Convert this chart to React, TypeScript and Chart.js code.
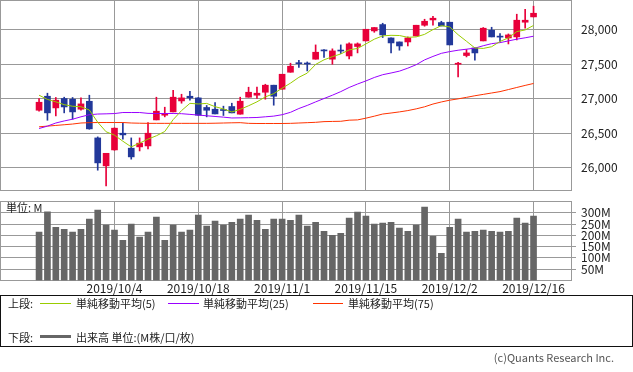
import React, { useEffect, useRef } from 'react';
import { Chart, registerables } from 'chart.js';

Chart.register(...registerables);

// ---- data (DJIA daily) ----
const dates = [
  '2019/9/23', '2019/9/24', '2019/9/25', '2019/9/26', '2019/9/27', '2019/9/30',
  '2019/10/1', '2019/10/2', '2019/10/3', '2019/10/4',
  '2019/10/7', '2019/10/8', '2019/10/9', '2019/10/10', '2019/10/11',
  '2019/10/14', '2019/10/15', '2019/10/16', '2019/10/17', '2019/10/18',
  '2019/10/21', '2019/10/22', '2019/10/23', '2019/10/24', '2019/10/25',
  '2019/10/28', '2019/10/29', '2019/10/30', '2019/10/31', '2019/11/1',
  '2019/11/4', '2019/11/5', '2019/11/6', '2019/11/7', '2019/11/8',
  '2019/11/11', '2019/11/12', '2019/11/13', '2019/11/14', '2019/11/15',
  '2019/11/18', '2019/11/19', '2019/11/20', '2019/11/21', '2019/11/22',
  '2019/11/25', '2019/11/26', '2019/11/27', '2019/11/29',
  '2019/12/2', '2019/12/3', '2019/12/4', '2019/12/5', '2019/12/6',
  '2019/12/9', '2019/12/10', '2019/12/11', '2019/12/12', '2019/12/13',
  '2019/12/16',
];

const open = [
  26830, 27033, 26864, 27000, 26990, 26845, 26960, 26429, 26024, 26255,
  26497, 26280, 26299, 26313, 26690, 26758, 26806, 26965, 27033, 27009,
  26870, 26845, 26835, 26884, 26773, 27019, 27048, 27091, 27193, 27135,
  27381, 27510, 27505, 27570, 27692, 27570, 27692, 27617, 27754, 27835,
  27980, 28072, 27878, 27820, 27820, 27907, 28062, 28139, 28101, 28106,
  27497, 27623, 27733, 27835, 27990, 27900, 27878, 27893, 28106, 28183,
];
const high = [
  27000, 27077, 27015, 27019, 27015, 27010, 27048, 26444, 26206, 26575,
  26647, 26429, 26429, 26650, 27019, 26874, 27120, 27062, 27105, 27015,
  26899, 26942, 26889, 26932, 27019, 27164, 27164, 27207, 27193, 27352,
  27512, 27555, 27530, 27777, 27710, 27720, 27777, 27806, 27806, 28004,
  28029, 28091, 27878, 27820, 27893, 28062, 28149, 28193, 28120, 28106,
  27526, 27710, 27733, 28029, 28033, 27942, 27936, 28222, 28294, 28338,
];
const low = [
  26815, 26685, 26748, 26792, 26700, 26830, 26555, 25961, 25734, 26250,
  26410, 26121, 26240, 26270, 26690, 26734, 26806, 26932, 26975, 26755,
  26734, 26777, 26754, 26792, 26773, 27019, 27000, 26990, 26903, 27135,
  27381, 27450, 27400, 27570, 27595, 27497, 27652, 27574, 27661, 27835,
  27960, 27884, 27661, 27700, 27762, 27907, 28048, 28062, 28052, 27777,
  27313, 27603, 27555, 27835, 27893, 27826, 27791, 27849, 28019, 28183,
];
const close = [
  26946, 26792, 26976, 26878, 26806, 26922, 26560, 26067, 26206, 26570,
  26473, 26154, 26353, 26497, 26816, 26783, 27019, 27009, 27009, 26758,
  26830, 26777, 26826, 26792, 26961, 27091, 27077, 27193, 27033, 27352,
  27468, 27505, 27500, 27671, 27690, 27690, 27688, 27792, 27792, 28004,
  28029, 27922, 27806, 27762, 27878, 28062, 28120, 28164, 28052, 27777,
  27507, 27661, 27661, 28019, 27893, 27890, 27922, 28135, 28135, 28236,
];

const sma5 = [
  27048, 26987, 26952, 26911, 26888, 26881, 26834, 26656, 26518, 26469,
  26381, 26299, 26353, 26412, 26460, 26522, 26694, 26825, 26930, 26921,
  26929, 26882, 26849, 26805, 26843, 26895, 26952, 27023, 27071, 27149,
  27223, 27307, 27368, 27494, 27561, 27607, 27646, 27705, 27726, 27791,
  27860, 27908, 27916, 27913, 27887, 27893, 27930, 27999, 28056, 28037,
  27925, 27830, 27733, 27726, 27751, 27827, 27879, 27970, 27994, 28059,
];
const sma25 = [
  26565, 26600, 26645, 26675, 26700, 26735, 26765, 26775, 26778, 26782,
  26797, 26797, 26797, 26785, 26783, 26783, 26783, 26780, 26770, 26760,
  26750, 26740, 26730, 26718, 26720, 26722, 26725, 26735, 26745, 26765,
  26800, 26855, 26900, 26951, 27000, 27048, 27100, 27160, 27210, 27255,
  27305, 27345, 27370, 27397, 27440, 27490, 27560, 27610, 27655, 27680,
  27700, 27715, 27730, 27765, 27795, 27810, 27835, 27860, 27880, 27903,
];
const sma75 = [
  26590, 26600, 26610, 26620, 26630, 26645, 26650, 26652, 26652, 26652,
  26652, 26645, 26642, 26640, 26640, 26640, 26640, 26640, 26640, 26640,
  26640, 26642, 26645, 26648, 26650, 26640, 26638, 26638, 26638, 26638,
  26640, 26645, 26650, 26655, 26665, 26668, 26670, 26686, 26690, 26715,
  26744, 26775, 26790, 26806, 26825, 26850, 26880, 26920, 26950, 26976,
  26995, 27017, 27040, 27060, 27080, 27100, 27130, 27160, 27190, 27218,
];

// volume in millions
const volume = [
  214, 304, 236, 227, 214, 227, 272, 312, 245, 223,
  178, 250, 192, 214, 281, 178, 245, 214, 223, 290,
  241, 263, 245, 258, 272, 290, 267, 227, 272, 272,
  267, 290, 241, 258, 218, 200, 209, 276, 303, 285,
  250, 254, 258, 232, 218, 245, 325, 196, 120, 236,
  272, 214, 218, 223, 218, 214, 218, 276, 254, 285,
];

const priceTicks = [26000, 26500, 27000, 27500, 28000];
const volumeTicks = [50, 100, 150, 200, 250, 300];
const xTickIndices = [9, 19, 29, 39, 49, 59];

const maLegend = ['単純移動平均(5)', '単純移動平均(25)', '単純移動平均(75)'];
const volLegend = '出来高 単位:(M株/口/枚)';

// ---- styles ----
const UP = '#E8003A';
const DOWN = '#22389A';
const GRID = '#999999';
const C5 = '#99CC00';
const C25 = '#9900FF';
const C75 = '#FF3300';
const VOL = '#666666';
const TEXT = '#222222';
const FONT = "'Noto Sans CJK JP', 'Liberation Sans', sans-serif";
const X_MIN = -4.66;
const X_MAX = 63.47;

const align = (v: number) => Math.round(v - 0.5) + 0.5;

const framePlugin = {
  id: 'frame',
  beforeDatasetsDraw(chart: any) {
    const { ctx, chartArea: a } = chart;
    const l = align(a.left), r = align(a.right), t = align(a.top), b = align(a.bottom);
    ctx.save();
    ctx.strokeStyle = GRID;
    ctx.lineWidth = 1;
    ctx.strokeRect(l, t, r - l, b - t);
    ctx.restore();
  },
};

function xScale(showLabels: boolean, height: number) {
  return {
    type: 'linear',
    min: X_MIN,
    max: X_MAX,
    offset: false,
    afterBuildTicks: (s: any) => {
      s.ticks = xTickIndices.map((v) => ({ value: v }));
    },
    afterFit: (s: any) => {
      s.height = height;
      s.paddingLeft = 0;
      s.paddingRight = 0;
    },
    grid: { color: GRID, drawTicks: false, offset: false },
    border: { display: false },
    ticks: {
      display: showLabels,
      autoSkip: false,
      maxRotation: 0,
      minRotation: 0,
      padding: 1,
      color: TEXT,
      font: { family: FONT, size: 12 },
      callback: (v: any) => dates[Math.round(Number(v))] ?? '',
    },
  };
}

export default function App() {
  const priceRef = useRef<HTMLCanvasElement>(null);
  const volRef = useRef<HTMLCanvasElement>(null);

  useEffect(() => {
    const colors = close.map((c, i) => (c >= open[i] ? UP : DOWN));

    const priceChart = new Chart(priceRef.current as HTMLCanvasElement, {
      type: 'bar',
      data: {
        datasets: [
          {
            type: 'line',
            label: maLegend[0],
            data: sma5.map((v, i) => ({ x: i, y: v })),
            borderColor: C5,
            borderWidth: 1,
            pointRadius: 0,
            tension: 0,
            order: 0,
          },
          {
            type: 'line',
            label: maLegend[1],
            data: sma25.map((v, i) => ({ x: i, y: v })),
            borderColor: C25,
            borderWidth: 1,
            pointRadius: 0,
            tension: 0,
            order: 0,
          },
          {
            type: 'line',
            label: maLegend[2],
            data: sma75.map((v, i) => ({ x: i, y: v })),
            borderColor: C75,
            borderWidth: 1,
            pointRadius: 0,
            tension: 0,
            order: 0,
          },
          {
            type: 'bar',
            label: 'wick',
            data: high.map((h, i) => ({ x: i, y: [low[i], h] })),
            backgroundColor: colors,
            barThickness: 1,
            grouped: false,
            order: 2,
          },
          {
            type: 'bar',
            label: 'body',
            data: open.map((o, i) => ({ x: i, y: [o, close[i]] })),
            backgroundColor: colors,
            barThickness: 6,
            minBarLength: 1,
            grouped: false,
            order: 1,
          },
        ] as any,
      },
      options: {
        responsive: false,
        maintainAspectRatio: false,
        devicePixelRatio: 1,
        animation: false,
        events: [],
        layout: { padding: 0 },
        plugins: { legend: { display: false }, tooltip: { enabled: false } },
        scales: {
          x: xScale(false, 5) as any,
          y: {
            type: 'linear',
            position: 'right',
            min: 25674,
            max: 28428,
            afterBuildTicks: (s: any) => {
              s.ticks = priceTicks.map((v) => ({ value: v }));
            },
            afterFit: (s: any) => {
              s.width = 62;
              s.paddingTop = 0;
              s.paddingBottom = 0;
            },
            grid: { color: GRID, drawTicks: false },
            border: { display: false },
            ticks: {
              autoSkip: false,
              padding: 10,
              color: TEXT,
              font: { family: FONT, size: 12 },
              callback: (v: any) => Number(v).toLocaleString('en-US'),
            },
          },
        },
      },
      plugins: [framePlugin],
    });

    const volChart = new Chart(volRef.current as HTMLCanvasElement, {
      type: 'bar',
      data: {
        datasets: [
          {
            label: volLegend,
            data: volume.map((v, i) => ({ x: i, y: v })),
            backgroundColor: VOL,
            barThickness: 6,
            grouped: false,
          },
        ] as any,
      },
      options: {
        responsive: false,
        maintainAspectRatio: false,
        devicePixelRatio: 1,
        animation: false,
        events: [],
        layout: { padding: { top: 6.5, left: 0, right: 0, bottom: 0 } },
        plugins: { legend: { display: false }, tooltip: { enabled: false } },
        scales: {
          x: xScale(true, 19.5) as any,
          y: {
            type: 'linear',
            position: 'right',
            min: 0,
            max: 350,
            afterBuildTicks: (s: any) => {
              s.ticks = volumeTicks.map((v) => ({ value: v }));
            },
            afterFit: (s: any) => {
              s.width = 62;
              s.paddingTop = 0;
              s.paddingBottom = 0;
            },
            grid: { color: GRID, drawTicks: true, tickLength: 5 },
            border: { display: false },
            ticks: {
              autoSkip: false,
              padding: 5,
              color: TEXT,
              font: { family: FONT, size: 12 },
              callback: (v: any) => `${v}M`,
            },
          },
        },
      },
      plugins: [framePlugin],
    });

    return () => {
      priceChart.destroy();
      volChart.destroy();
    };
  }, []);

  const txt = (left: number, top: number, s: string, extra: any = {}) => (
    <div
      style={{
        position: 'absolute',
        left,
        top,
        fontSize: 11,
        lineHeight: '14px',
        whiteSpace: 'nowrap',
        color: TEXT,
        ...extra,
      }}
    >
      {s}
    </div>
  );
  const line = (left: number, top: number, width: number, h: number, color: string) => (
    <div style={{ position: 'absolute', left, top, width, height: h, background: color }} />
  );

  return (
    <div
      style={{
        position: 'absolute',
        left: 0,
        top: 0,
        width: 633,
        height: 372,
        background: '#fff',
        fontFamily: FONT,
        overflow: 'hidden',
      }}
    >
      <canvas ref={priceRef} width={633} height={195} style={{ position: 'absolute', left: 0, top: 0 }} />
      <canvas ref={volRef} width={633} height={105} style={{ position: 'absolute', left: 0, top: 195 }} />
      {txt(6, 200, '単位: M')}

      <div
        style={{
          position: 'absolute',
          left: 0,
          top: 295,
          width: 633,
          height: 52,
          boxSizing: 'border-box',
          border: '1px solid #111',
        }}
      />
      {txt(8, 296, '上段:')}
      {line(40, 303, 31, 1, C5)}
      {txt(76, 296, maLegend[0])}
      {line(168, 303, 31, 1, C25)}
      {txt(203, 296, maLegend[1])}
      {line(313, 303, 30, 1, C75)}
      {txt(348, 296, maLegend[2])}

      {txt(8, 330, '下段:')}
      {line(40, 335, 31, 3, VOL)}
      {txt(76, 330, volLegend)}

      <div
        style={{
          position: 'absolute',
          left: 0,
          top: 350,
          width: 614,
          textAlign: 'right',
          fontSize: 11,
          lineHeight: '14px',
          color: '#555',
          whiteSpace: 'nowrap',
        }}
      >
        (c)Quants Research Inc.
      </div>
    </div>
  );
}
